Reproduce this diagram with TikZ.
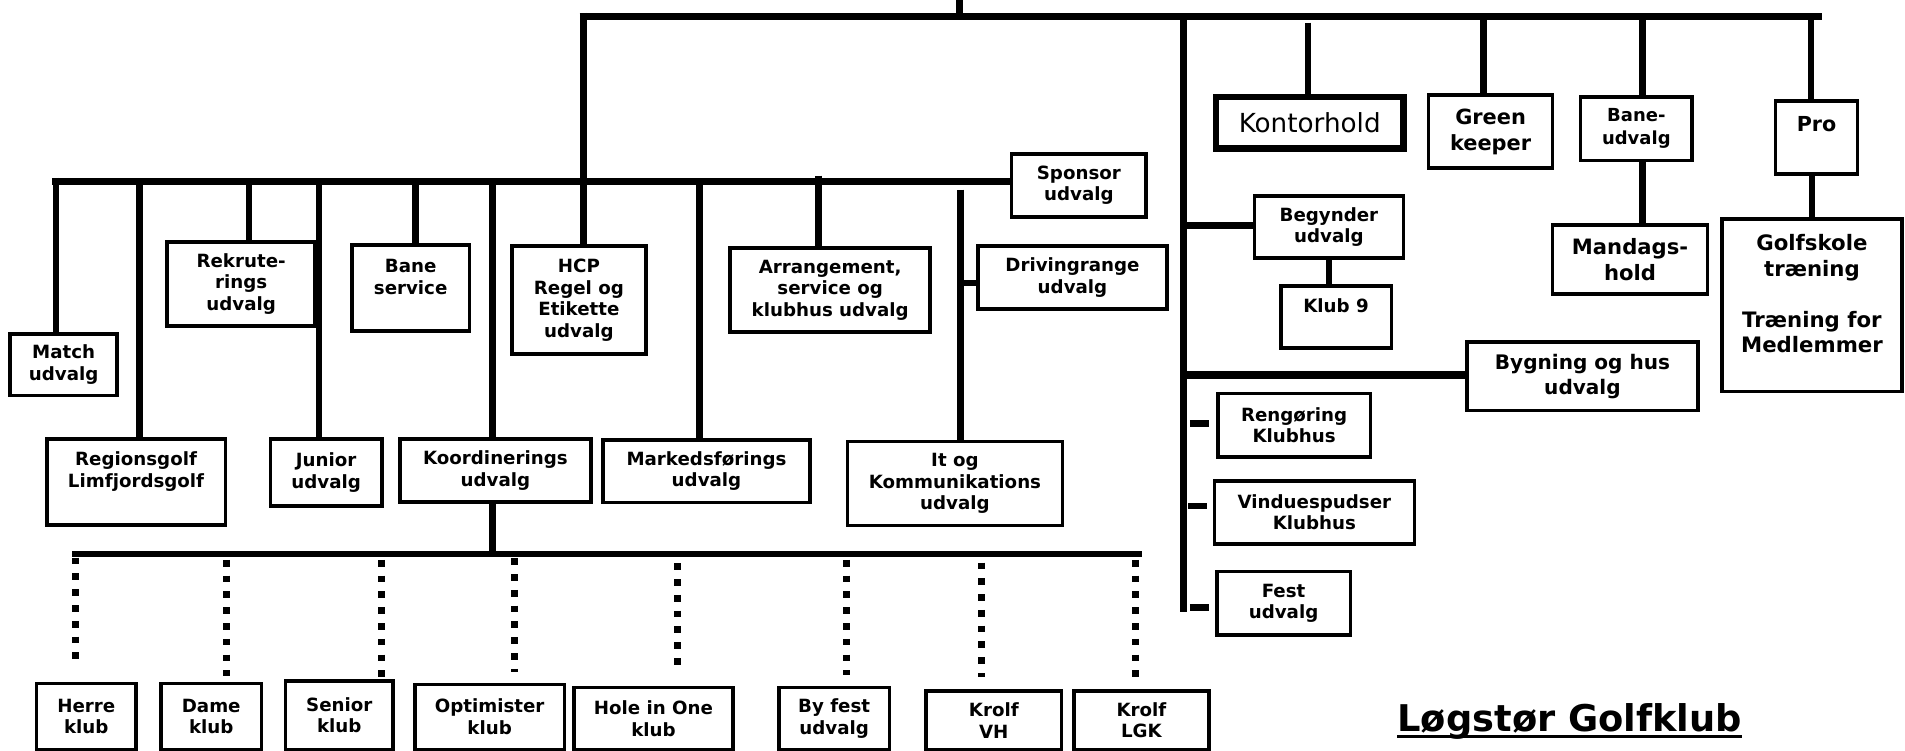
\documentclass[tikz,border=0pt]{standalone}
\usepackage{fontspec}
\setmainfont{DejaVu Sans}
\newcommand\orgbox[7][]{\node[box,minimum width={#5-#3-3},minimum height={#6-#4-3},#1] (#2) at ({(#3+#5)/2},{(#4+#6)/2}) {#7};}
\begin{document}
\begin{tikzpicture}[x=1pt,y=-1pt,
  box/.style={draw,line width=3pt,inner sep=0pt,align=center,font=\fontsize{15}{17.8}\selectfont\bfseries},
  lbl/.style={inner sep=0pt,align=center,font=\fontsize{15}{17.8}\selectfont\bfseries},
  hbar/.style={line width=6pt},
  vbar/.style={line width=5.5pt},
  dots/.style={line width=5.5pt,dash pattern=on 5.5pt off 7.5pt}]
\useasboundingbox (0,0) rectangle (1568,618);

% ---------- boxes, left part ----------
\orgbox{match}{6.7}{273.5}{98}{327}{Match\\udvalg}
\orgbox[label={[lbl,yshift=8.6pt]center:{Regionsgolf\\Limfjordsgolf}}]{region}{37}{360}{187}{433.4}{}
\orgbox{rek}{136}{197.5}{261}{270}{Rekrute-\\rings\\udvalg}
\orgbox{junior}{221}{360}{316}{418}{Junior\\udvalg}
\orgbox[label={[lbl,yshift=9pt]center:{Bane\\service}}]{baneserv}{288}{200}{388}{274}{}
\orgbox{koord}{327.5}{360}{488}{414.7}{Koordinerings\\udvalg}
\orgbox{hcp}{420}{201}{533}{293}{HCP\\Regel og\\Etikette\\udvalg}
\orgbox{mark}{495}{360.7}{668}{415}{Markedsførings\\udvalg}
\orgbox{arr}{599.6}{202.4}{767}{275}{Arrangement,\\service og\\klubhus udvalg}
\orgbox{spon}{831}{125}{945}{180}{Sponsor\\udvalg}
\orgbox{drive}{803.5}{200.8}{962}{255.6}{Drivingrange\\udvalg}
\orgbox{it}{696}{362}{876}{434}{It og\\Kommunikations\\udvalg}

% ---------- boxes, right part ----------
\node[draw,line width=5.5pt,inner sep=0pt,minimum width=154.5pt,minimum height=42.5pt,
  font=\fontsize{21.6}{26}\selectfont] (kont) at (1078,101) {Kontorhold};
\orgbox[font=\fontsize{17.2}{21.5}\selectfont\bfseries]{green}{1174.4}{76.8}{1279.4}{140}{Green\\keeper}
\orgbox[font=\fontsize{14.8}{18.7}\selectfont\bfseries]{baneudv}{1299.3}{78.2}{1394.4}{133.6}{Bane-\\udvalg}
\orgbox[label={[lbl,font=\fontsize{17}{21}\selectfont\bfseries,yshift=11pt]center:Pro}]{pro}{1460}{81.5}{1530.3}{144.6}{}
\orgbox[label={[lbl,font=\fontsize{17.5}{21}\selectfont\bfseries,yshift=9.5pt]center:{Golfskole\\træning\\[21pt]Træning for\\Medlemmer}}]{golf}{1416}{178.8}{1566.8}{323.7}{}
\orgbox[font=\fontsize{17.4}{20.8}\selectfont\bfseries]{mandag}{1276.3}{183.8}{1407}{243.6}{Mandags-\\hold}
\orgbox{begyn}{1031}{160}{1156.6}{214}{Begynder\\udvalg}
\orgbox[label={[lbl,yshift=9.2pt]center:Klub 9}]{klub9}{1052.7}{234}{1146.7}{288}{}
\orgbox[font=\fontsize{16.5}{20.6}\selectfont\bfseries]{byg}{1206}{279.8}{1399}{339.3}{Bygning og hus\\udvalg}
\orgbox{reng}{1000.8}{322.4}{1129.6}{377.8}{Rengøring\\Klubhus}
\orgbox{vind}{998}{394.2}{1165.7}{449}{Vinduespudser\\Klubhus}
\orgbox{fest}{1000}{469}{1113}{524}{Fest\\udvalg}

% ---------- boxes, bottom row ----------
\orgbox{herre}{28.6}{561}{113.5}{618.5}{Herre\\klub}
\orgbox{dame}{131}{561}{216.7}{618.5}{Dame\\klub}
\orgbox{senior}{233.5}{559}{325}{618.5}{Senior\\klub}
\orgbox{opt}{340}{561.8}{466}{618.5}{Optimister\\klub}
\orgbox{hole}{471}{564.5}{604.7}{618.5}{Hole in One\\klub}
\orgbox{byfest}{639.6}{564.5}{733.6}{618.5}{By fest\\udvalg}
\orgbox{krolfvh}{760.9}{567.3}{875.1}{618.5}{Krolf\\VH}
\orgbox{krolflgk}{882.5}{567.3}{996.5}{618.5}{Krolf\\LGK}

% ---------- top level ----------
\coordinate (root) at (790,-3);
\coordinate (tbL) at (477,13.5);
\coordinate (tbR) at (1499.5,13.5);
\draw[hbar] (tbL) -- (tbR);
\draw[vbar] (root) -- (root |- tbL);
\draw[vbar] (480,10.5) coordinate (hcpTop) -- (hcpTop |- hcp.north);

% ---------- right column ----------
\draw[vbar] (974.2,13.5) coordinate (spTop) -- (974.2,503.4) coordinate (spBot);
\draw[vbar] (1076.5,18.7) coordinate (kTop) -- (kTop |- kont.north);
\draw[vbar] (1221.2,13.5) coordinate (gTop) -- (gTop |- green.north);
\draw[vbar] (1352,13.5) coordinate (bTop) -- (bTop |- baneudv.north);
\draw[vbar] (baneudv.south -| bTop) -- (bTop |- mandag.north);
\draw[vbar] (1490.7,13.5) coordinate (pTop) -- (pTop |- pro.north);
\coordinate (pg) at (1491.5,0);
\draw[vbar] (pro.south -| pg) -- (golf.north -| pg);
\coordinate (bg) at (974.2,185.7);
\draw[hbar] (bg) -- (bg -| begyn.west);
\coordinate (k9x) at (1094,0);
\draw[vbar] (begyn.south -| k9x) -- (klub9.north -| k9x);
\coordinate (byj) at (974.2,308.6);
\draw[hbar] (byj) -- (byj -| byg.west);
\coordinate (rj) at (979.4,348.4);
\draw[vbar,shorten >=5.5pt] (rj) -- (rj -| reng.west);
\coordinate (vj) at (978.2,416.4);
\draw[vbar,shorten >=4.6pt] (vj) -- (vj -| vind.west);
\coordinate (fj) at (979.4,499.8);
\draw[vbar,shorten >=4.7pt] (fj) -- (fj -| fest.west);

% ---------- level 2 ----------
\coordinate (l2L) at (43.2,149.5);
\draw[hbar] (l2L) -- (l2L -| spon.west);
\draw[vbar] (46,146.5) coordinate (v1) -- (v1 |- match.north);
\draw[vbar] (115,149.5) coordinate (v2) -- (v2 |- region.north);
\draw[vbar] (205,149.5) coordinate (v3) -- (v3 |- rek.north);
\draw[vbar] (262.5,149.5) coordinate (v4) -- (v4 |- junior.north);
\draw[vbar] (342,149.5) coordinate (v5) -- (v5 |- baneserv.north);
\draw[vbar] (405.5,149.5) coordinate (v6) -- (v6 |- koord.north);
\draw[vbar] (575.5,149.5) coordinate (v7) -- (v7 |- mark.north);
\draw[vbar] (673.5,144.5) coordinate (v8) -- (v8 |- arr.north);
\draw[vbar] (790.5,156) coordinate (v9) -- (v9 |- it.north);
\coordinate (dj) at (790.5,233);
\draw[vbar] (dj) -- (dj -| drive.west);

% ---------- level 3 ----------
\coordinate (l3L) at (59.5,456);
\coordinate (l3R) at (940,456);
\draw[vbar] (l3L) -- (l3R);
\draw[vbar] (koord.south -| v6) -- (v6 |- l3L);
\draw[dots,shorten >=11.2pt] (62,459) coordinate (d1) -- (d1 |- herre.north);
\draw[dots,shorten >=4.5pt] (186.4,460.8) coordinate (d2) -- (d2 |- dame.north);
\draw[dots] (314,460.8) coordinate (d3) -- (d3 |- senior.north);
\draw[dots,shorten >=8.7pt] (423.2,459.5) coordinate (d4) -- (d4 |- opt.north);
\draw[dots,shorten >=17.4pt] (557.6,463.6) coordinate (d5) -- (d5 |- hole.north);
\draw[dots,shorten >=9.2pt] (697,460.8) coordinate (d6) -- (d6 |- byfest.north);
\draw[dots,shorten >=9.8pt] (807.6,463) coordinate (d7) -- (d7 |- krolfvh.north);
\draw[dots,shorten >=3.8pt] (934.5,460.8) coordinate (d8) -- (d8 |- krolflgk.north);

% ---------- title ----------
\node[inner sep=0pt,anchor=base west,font=\fontsize{30.3}{36}\selectfont\bfseries] (title) at (1150,602) {Løgstør Golfklub};
\draw[line width=2.7pt] ([yshift=-4.3pt]title.base west) -- ([yshift=-4.3pt]title.base east);
\end{tikzpicture}
\end{document}
